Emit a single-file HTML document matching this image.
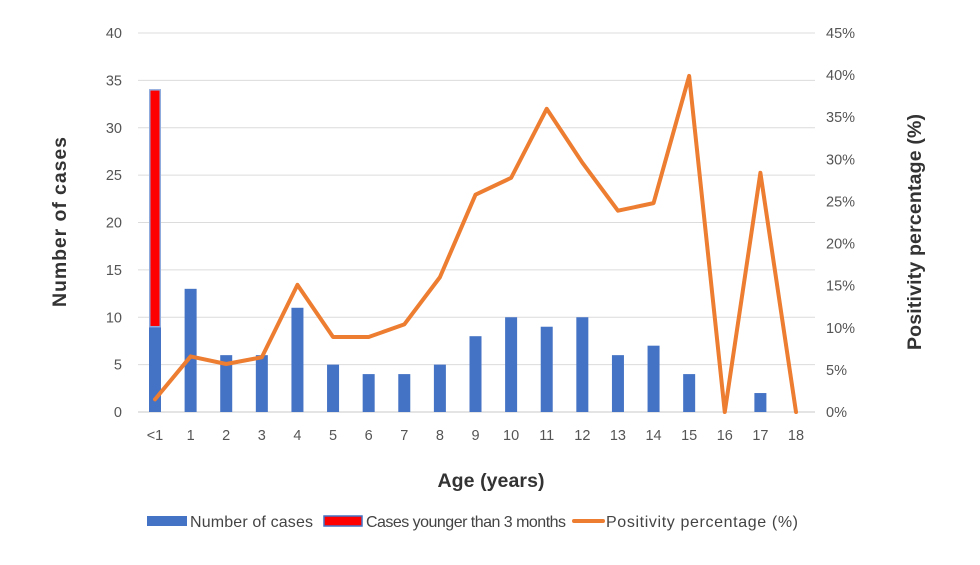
<!DOCTYPE html>
<html><head><meta charset="utf-8"><style>
body{margin:0;background:#fff;}
svg{font-family:"Liberation Sans",sans-serif;}
</style></head><body>
<svg id="chart" width="980" height="560">
<g id="grid"></g><g id="bars"></g><g id="line"></g><g id="axes"></g>
<text x="491" y="487" text-anchor="middle" font-size="19.5" font-weight="bold" fill="#333" textLength="107">Age (years)</text>
<text transform="translate(66,222) rotate(-90)" text-anchor="middle" font-size="19.5" font-weight="bold" fill="#333" textLength="170">Number of cases</text>
<text transform="translate(921,232) rotate(-90)" text-anchor="middle" font-size="19.5" font-weight="bold" fill="#333" textLength="236">Positivity percentage (%)</text>
<g font-size="16" fill="#444">
<g><rect x="147" y="516" width="40" height="10" fill="#4472C4"/><text x="190" y="527" textLength="123">Number of cases</text></g>
<g><rect x="324" y="516" width="38" height="10" fill="#FF0000" stroke="#4472C4" stroke-width="1.5"/><text x="366" y="527" textLength="200">Cases younger than 3 months</text></g>
<g><line x1="574" y1="521" x2="603" y2="521" stroke="#ED7D31" stroke-width="4" stroke-linecap="round"/><text x="606" y="527" textLength="192">Positivity percentage (%)</text></g>
</g>
</svg>
<script>
const categories=["<1","1","2","3","4","5","6","7","8","9","10","11","12","13","14","15","16","17","18"];
const cases=[9,13,6,6,11,5,4,4,5,8,10,9,10,6,7,4,0,2,0];
const young=[25,0,0,0,0,0,0,0,0,0,0,0,0,0,0,0,0,0,0];
const positivity=[1.5,6.6,5.7,6.5,15.1,8.9,8.9,10.4,16,25.8,27.8,36,29.6,23.9,24.8,39.9,0,28.4,0];
const leftTicks=[0,5,10,15,20,25,30,35,40];
const rightTicks=[0,5,10,15,20,25,30,35,40,45];
const NS="http://www.w3.org/2000/svg";
const x0=155,dx=(796-155)/18,yB=412,yT=33;
const xs=i=>x0+i*dx;
const yL=v=>yB-(v/40)*(yB-yT);
const yR=v=>yB-(v/45)*(yB-yT);
function mk(t,a,p){const e=document.createElementNS(NS,t);for(const k in a)e.setAttribute(k,a[k]);p.appendChild(e);return e;}
const grid=document.getElementById('grid'),axes=document.getElementById('axes');
leftTicks.forEach(v=>{
 const l=mk('line',{x1:138,x2:815,y1:yL(v),y2:yL(v),stroke:v===0?'#c8c8c8':'#dcdcdc','stroke-width':1},grid);
 
 
 const t=mk('text',{x:122,y:yL(v)+5,'text-anchor':'end','font-size':14.5,fill:'#555'},axes);t.textContent=v;
 
 
});
rightTicks.forEach(v=>{
 const t=mk('text',{x:826,y:yR(v)+5,'font-size':14.5,fill:'#555'},axes);t.textContent=v+'%';
 
 
});
categories.forEach((c,i)=>{
 const t=mk('text',{x:xs(i),y:440,'text-anchor':'middle','font-size':14.5,fill:'#555'},axes);t.textContent=c;
 
 
});
const bars=document.getElementById('bars');const bw=12;
cases.forEach((v,i)=>{
 if(v>0){const r=mk('rect',{x:xs(i)-bw/2,y:yL(v),width:bw,height:yB-yL(v),fill:'#4472C4'},bars);
 
 }
 if(young[i]>0){const r=mk('rect',{x:xs(i)-bw/2+0.75,y:yL(v+young[i]),width:bw-1.5,height:yL(v)-yL(v+young[i]),fill:'#FF0000',stroke:'#8faadc','stroke-width':1.5},bars);
 
 }
});
const pts=positivity.map((v,i)=>xs(i)+','+yR(v)).join(' ');
const pl=mk('polyline',{points:pts,fill:'none',stroke:'#ED7D31','stroke-width':4,'stroke-linejoin':'round','stroke-linecap':'round'},document.getElementById('line'));


</script>
</body></html>
